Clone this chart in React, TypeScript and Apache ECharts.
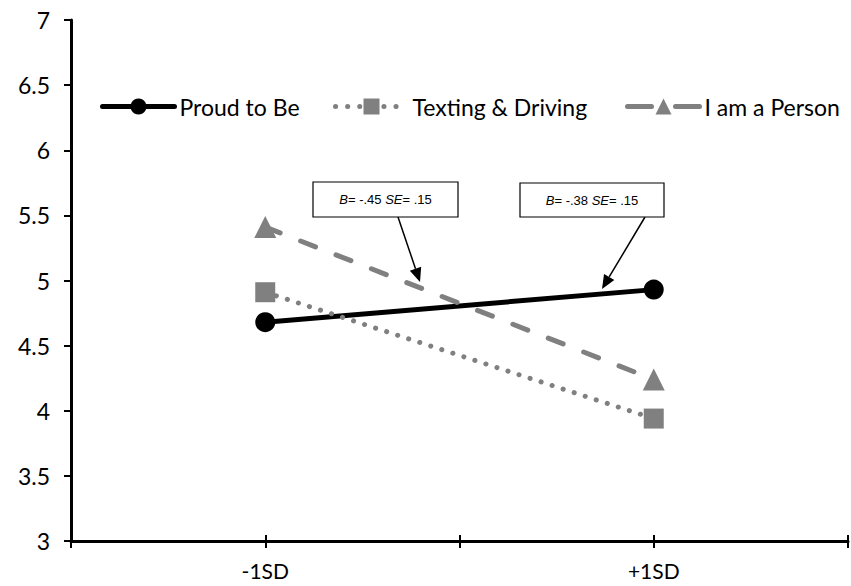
import React, { useEffect, useRef } from "react";
import * as echarts from "echarts";

const categories = ["", "-1SD", "", "+1SD", ""];
const seriesNames = ["Proud to Be", "Texting & Driving", "I am a Person"];
const proudToBe = [null, 4.68, null, 4.93, null];
const textingDriving = [null, 4.91, null, 3.94, null];
const iAmAPerson = [null, 5.41, null, 4.24, null];
const yTicks = { min: 3, max: 7, interval: 0.5 };
const annotations = ["{i|B}= -.45 {i|SE}= .15", "{i|B}= -.38 {i|SE}= .15"];

const FONT = "Lato, 'Open Sans', sans-serif";
const GRAY = "#808080";

function arrow(x1: number, y1: number, x2: number, y2: number) {
  const dx = x2 - x1;
  const dy = y2 - y1;
  const len = Math.sqrt(dx * dx + dy * dy);
  const ux = dx / len;
  const uy = dy / len;
  const hl = 14;
  const hw = 6;
  const bx = x2 - ux * hl;
  const by = y2 - uy * hl;
  const px = -uy * hw;
  const py = ux * hw;
  return [
    {
      type: "line",
      shape: { x1, y1, x2: bx, y2: by },
      style: { stroke: "#000", lineWidth: 1.5 },
      z: 100,
    },
    {
      type: "polygon",
      shape: {
        points: [
          [x2, y2],
          [bx + px, by + py],
          [bx - px, by - py],
        ],
      },
      style: { fill: "#000" },
      z: 100,
    },
  ];
}

function box(x: number, y: number, w: number, h: number, text: string) {
  return [
    {
      type: "rect",
      shape: { x, y, width: w, height: h },
      style: { fill: "#fff", stroke: "#000", lineWidth: 1.2 },
      z: 100,
    },
    {
      type: "text",
      x: x + w / 2,
      y: y + h / 2,
      z: 101,
      style: {
        text,
        fontSize: 13,
        fontFamily: "'Liberation Sans', Arial, sans-serif",
        fill: "#000",
        align: "center",
        verticalAlign: "middle",
        rich: {
          i: {
            fontStyle: "italic",
            fontSize: 13,
            fontFamily: "'Liberation Sans', Arial, sans-serif",
            fill: "#000",
          },
        },
      },
    },
  ];
}

export default function App() {
  const ref = useRef<HTMLDivElement>(null);

  useEffect(() => {
    document.body.style.margin = "0";
    if (!ref.current) return;
    const chart = echarts.init(ref.current, undefined, { renderer: "svg" });

    const legendCommon = {
      top: 90,
      itemWidth: 72,
      itemHeight: 20,
      textStyle: { fontSize: 23, fontFamily: FONT, color: "#000" },
      selectedMode: false,
    };

    chart.setOption({
      animation: false,
      backgroundColor: "#fff",
      grid: { left: 71, right: -2, top: 20, bottom: 45, containLabel: false },
      legend: [
        {
          ...legendCommon,
          left: 95,
          data: [
            { name: seriesNames[0], lineStyle: { width: 5, color: "#000", cap: "round" } },
          ],
        },
        {
          ...legendCommon,
          left: 328,
          data: [
            {
              name: seriesNames[1],
              lineStyle: { width: 5, color: GRAY, type: [0.1, 12], cap: "round" },
            },
          ],
        },
        {
          ...legendCommon,
          left: 620,
          data: [
            {
              name: seriesNames[2],
              lineStyle: { width: 5, color: GRAY, type: [24, 24], cap: "round" },
            },
          ],
        },
      ],
      xAxis: [
        {
          type: "category",
          data: categories,
          boundaryGap: false,
          axisLine: { show: true, lineStyle: { color: "#000", width: 3 } },
          axisTick: {
            show: true,
            alignWithLabel: true,
            interval: 0,
            length: 7,
            lineStyle: { color: "#000", width: 2 },
          },
          axisLabel: {
            interval: 0,
            margin: 19,
            fontSize: 21,
            fontFamily: FONT,
            color: "#000",
          },
          splitLine: { show: false },
          z: 5,
        },
        {
          type: "category",
          data: categories,
          boundaryGap: false,
          position: "bottom",
          axisLine: { show: false },
          axisTick: {
            show: true,
            inside: true,
            interval: 0,
            length: 6,
            lineStyle: { color: "#000", width: 2 },
          },
          axisLabel: { show: false },
          splitLine: { show: false },
          z: 6,
        },
      ],
      yAxis: {
        type: "value",
        min: yTicks.min,
        max: yTicks.max,
        interval: yTicks.interval,
        axisLine: { show: true, lineStyle: { color: "#000", width: 3 } },
        axisTick: { show: true, length: 7, lineStyle: { color: "#000", width: 2 } },
        axisLabel: {
          margin: 21,
          fontSize: 23,
          fontFamily: FONT,
          color: "#000",
        },
        splitLine: { show: false },
      },
      series: [
        {
          name: seriesNames[0],
          type: "line",
          data: proudToBe,
          connectNulls: true,
          symbol: "circle",
          symbolSize: 20,
          itemStyle: { color: "#000" },
          lineStyle: { color: "#000", width: 5 },
          z: 2,
        },
        {
          name: seriesNames[1],
          type: "line",
          data: textingDriving,
          connectNulls: true,
          symbol: "rect",
          symbolSize: 20,
          itemStyle: { color: GRAY },
          lineStyle: { color: GRAY, width: 5, type: [0.1, 11.5], cap: "round" },
          z: 3,
        },
        {
          name: seriesNames[2],
          type: "line",
          data: iAmAPerson,
          connectNulls: true,
          symbol: "triangle",
          symbolSize: 22,
          itemStyle: { color: GRAY },
          lineStyle: { color: GRAY, width: 5, type: [16, 22], cap: "round" },
          z: 4,
        },
      ],
      graphic: [
        ...arrow(398, 217, 420, 282),
        ...arrow(645, 217, 602, 289),
        ...box(313, 182, 145, 35, annotations[0]),
        ...box(520, 183, 144, 34, annotations[1]),
      ],
    });

    return () => chart.dispose();
  }, []);

  return <div ref={ref} style={{ width: 851, height: 586 }} />;
}
